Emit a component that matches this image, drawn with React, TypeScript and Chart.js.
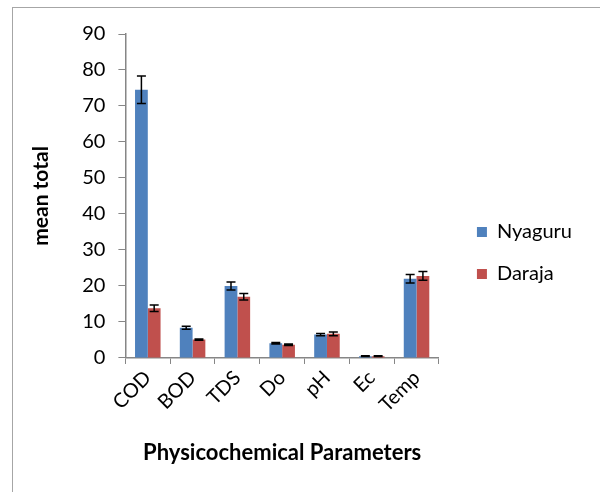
import React, { useEffect, useRef } from "react";
import { Chart, registerables } from "chart.js";

Chart.register(...registerables);

const categories = ["COD", "BOD", "TDS", "Do", "pH", "Ec", "Temp"];
const nyaguru = [74.5, 8.4, 20.0, 4.1, 6.5, 0.5, 22.0];
const daraja = [13.8, 5.1, 17.0, 3.7, 6.7, 0.5, 22.8];
const nyaguruErr = [3.8, 0.4, 1.1, 0.2, 0.3, 0.1, 1.2];
const darajaErr = [0.9, 0.2, 0.9, 0.2, 0.5, 0.1, 1.2];
const errors = [nyaguruErr, darajaErr];

const FONT = "Lato, 'Open Sans', sans-serif";

const errorBarPlugin = {
  id: "errorBars",
  afterDatasetsDraw(chart: any) {
    const ctx = chart.ctx;
    const y = chart.scales.y;
    ctx.save();
    ctx.strokeStyle = "#000";
    ctx.lineWidth = 1.5;
    chart.data.datasets.forEach((ds: any, di: number) => {
      const meta = chart.getDatasetMeta(di);
      meta.data.forEach((bar: any, i: number) => {
        const v = ds.data[i];
        const e = errors[di][i];
        const x = bar.x;
        const yTop = y.getPixelForValue(v + e);
        const yBot = y.getPixelForValue(v - e);
        const cap = 4.5;
        ctx.beginPath();
        ctx.moveTo(x, yTop);
        ctx.lineTo(x, yBot);
        ctx.moveTo(x - cap, yTop);
        ctx.lineTo(x + cap, yTop);
        ctx.moveTo(x - cap, yBot);
        ctx.lineTo(x + cap, yBot);
        ctx.stroke();
      });
    });
    ctx.restore();
  },
};

const legendShiftPlugin = {
  id: "legendShift",
  afterLayout(chart: any) {
    const lg = chart.legend;
    if (lg) {
      lg.left += 16;
      lg.right += 16;
      lg.top += 3;
      lg.bottom += 3;
    }
  },
};

export default function App() {
  const ref = useRef<HTMLCanvasElement>(null);
  useEffect(() => {
    if (!ref.current) return;
    const chart = new Chart(ref.current, {
      type: "bar",
      data: {
        labels: categories,
        datasets: [
          {
            label: "Nyaguru",
            data: nyaguru,
            backgroundColor: "#4F81BD",
            categoryPercentage: 0.57,
            barPercentage: 1.0,
          },
          {
            label: "Daraja",
            data: daraja,
            backgroundColor: "#C0504D",
            categoryPercentage: 0.57,
            barPercentage: 1.0,
          },
        ],
      },
      options: {
        animation: false,
        responsive: false,
        maintainAspectRatio: false,
        layout: { padding: { left: 29, top: 34, right: 34, bottom: 26 } },
        plugins: {
          tooltip: { enabled: false },
          legend: {
            position: "right",
            labels: {
              boxWidth: 10,
              boxHeight: 10,
              padding: 22,
              color: "#000",
              font: { family: FONT, size: 20 },
            },
          },
        },
        scales: {
          x: {
            grid: {
              offset: true,
              drawOnChartArea: false,
              drawTicks: true,
              tickLength: 6,
              color: "#868686",
            },
            border: { color: "#868686", width: 1.5 },
            ticks: {
              maxRotation: 45,
              minRotation: 45,
              color: "#000",
              font: { family: FONT, size: 20 },
              padding: 2,
            },
            title: {
              display: true,
              text: "Physicochemical Parameters",
              color: "#000",
              font: { family: FONT, size: 22, weight: "bold" },
              padding: { top: 21, bottom: 0 },
            },
          },
          y: {
            min: 0,
            max: 90,
            ticks: {
              stepSize: 10,
              color: "#000",
              font: { family: FONT, size: 20 },
              padding: 13,
            },
            grid: {
              drawOnChartArea: false,
              drawTicks: true,
              tickLength: 7,
              color: "#868686",
            },
            border: { color: "#868686", width: 1.5 },
            title: {
              display: true,
              text: "mean total",
              color: "#000",
              font: { family: FONT, size: 21, weight: "bold" },
              padding: { top: 0, bottom: 15 },
            },
          },
        },
      },
      plugins: [errorBarPlugin, legendShiftPlugin],
    });
    return () => chart.destroy();
  }, []);
  return (
    <div style={{ position: "absolute", left: 0, top: 0, width: 600, height: 492, background: "#fff" }}>
      <canvas ref={ref} width={600} height={492} style={{ position: "absolute", left: 0, top: 0 }} />
      <div
        style={{
          position: "absolute",
          left: 12,
          top: 7,
          width: 590,
          height: 490,
          borderTop: "1.5px solid #a6a6a6",
          borderLeft: "1.5px solid #a6a6a6",
          pointerEvents: "none",
        }}
      />
    </div>
  );
}
